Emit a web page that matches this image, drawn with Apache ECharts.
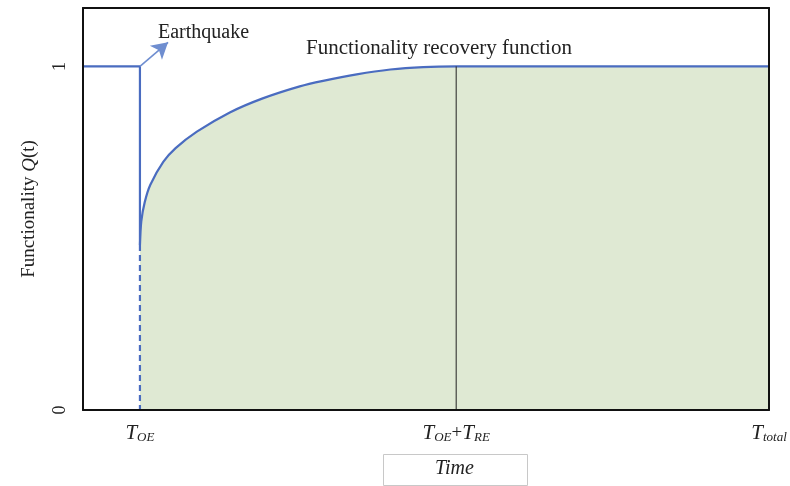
<!DOCTYPE html>
<html>
<head>
<meta charset="utf-8">
<script src="https://cdn.jsdelivr.net/npm/echarts@6/dist/echarts.min.js"></script>
<style>html,body{margin:0;padding:0;background:#fff}#c{width:790px;height:486px}</style>
</head>
<body>
<div id="c"></div>
<script>
// ---- data ----
const xTickValues = [8.3, 54.4, 100];
const xTickLabels = ['{t|T}{s|OE}', '{t|T}{s|OE}{p|+}{t|T}{s|RE}', '{t|T}{s|total}'];
const yTickValues = [0, 1];
const yTickLabels = ['0', '1'];
const preEventX = [0, 8.3, 8.3];
const preEventY = [1, 1, 0.48];
const dashedX = [8.3, 8.3];
const dashedY = [0.48, 0];
const recoveryX = [8.3, 8.5, 9.0, 9.8, 11.7, 13.5, 16.6, 21.4, 26.2, 31.6, 35.0, 39.9, 44.8, 49.6, 54.4, 100];
const recoveryY = [0.48, 0.55, 0.605, 0.655, 0.722, 0.762, 0.81, 0.866, 0.907, 0.942, 0.958, 0.977, 0.991, 0.998, 1.0, 1.0];
const recoveryEndX = [54.4, 54.4];
const recoveryEndY = [0, 1];
const arrowFrom = [8.3, 1];
const arrowTo = [12.4, 1.07];

const zip = (xs, ys) => xs.map((x, i) => [x, ys[i]]);
const serif = '"Liberation Serif", "DejaVu Serif", serif';
const blue = '#4a6cc0';

const chart = echarts.init(document.getElementById('c'));
chart.setOption({
  animation: false,
  grid: { left: 83, top: 8, right: 21, bottom: 76 },
  xAxis: [{
    type: 'value', min: 0, max: 100, z: 5,
    axisLine: { show: true, onZero: false, lineStyle: { color: '#111', width: 2 } },
    axisTick: { show: false },
    splitLine: { show: false },
    axisLabel: {
      customValues: xTickValues,
      margin: 12,
      formatter: (v) => xTickLabels[xTickValues.indexOf(v)],
      rich: {
        t: { fontFamily: serif, fontStyle: 'italic', fontSize: 21, color: '#222' },
        p: { fontFamily: serif, fontSize: 19, color: '#222' },
        s: { fontFamily: serif, fontStyle: 'italic', fontSize: 13, color: '#222', padding: [9, 0, 0, 0] }
      }
    }
  }, {
    type: 'value', min: 0, max: 100, position: 'top', z: 5,
    axisLine: { show: true, onZero: false, lineStyle: { color: '#111', width: 2 } },
    axisTick: { show: false }, axisLabel: { show: false }, splitLine: { show: false }
  }],
  yAxis: [{
    type: 'value', min: 0, max: 1.17, z: 5,
    name: '{n|Functionality }{q|Q}{n|(t)}',
    nameLocation: 'middle', nameGap: 44, nameRotate: 90,
    nameTextStyle: {
      rich: {
        n: { fontFamily: serif, fontSize: 19, color: '#222' },
        q: { fontFamily: serif, fontStyle: 'italic', fontSize: 19, color: '#222' }
      }
    },
    axisLine: { show: true, onZero: false, lineStyle: { color: '#111', width: 2 } },
    axisTick: { show: false },
    splitLine: { show: false },
    axisLabel: {
      customValues: yTickValues,
      rotate: 90, margin: 14,
      formatter: (v) => yTickLabels[yTickValues.indexOf(v)],
      fontFamily: serif, fontSize: 18, color: '#222'
    }
  }, {
    type: 'value', min: 0, max: 1.17, position: 'right', z: 5,
    axisLine: { show: true, onZero: false, lineStyle: { color: '#111', width: 2 } },
    axisTick: { show: false }, axisLabel: { show: false }, splitLine: { show: false }
  }],
  series: [
    {
      type: 'line', data: zip(recoveryX, recoveryY), showSymbol: false, symbol: 'none',
      smooth: 0.3,
      lineStyle: { color: blue, width: 2.2 },
      areaStyle: { color: '#dfe9d3', opacity: 1 }, z: 2
    },
    {
      type: 'line', data: zip(preEventX, preEventY), symbol: 'none',
      lineStyle: { color: blue, width: 2.2 }, z: 3,
      markLine: {
        silent: true, symbol: ['none', 'arrow'], symbolSize: [14, 16],
        lineStyle: { color: '#6f8ed0', width: 1.6, type: 'solid' },
        label: { show: false },
        data: [[{ coord: arrowFrom }, { coord: arrowTo }]]
      }
    },
    {
      type: 'line', data: zip(dashedX, dashedY), symbol: 'none',
      lineStyle: { color: blue, width: 2.2, type: [6, 4] }, z: 3
    },
    {
      type: 'line', data: zip(recoveryEndX, recoveryEndY), symbol: 'none',
      lineStyle: { color: '#222', width: 1 }, z: 3
    }
  ],
  graphic: [
    { type: 'text', left: 158, top: 23, style: { text: 'Earthquake', font: '20px ' + serif, fill: '#222' } },
    { type: 'text', left: 306, top: 38, style: { text: 'Functionality recovery function', font: '21px ' + serif, fill: '#222' } },
    { type: 'rect', left: 383, top: 454, shape: { width: 144, height: 31 }, style: { fill: '#fff', stroke: '#c8c8c8', lineWidth: 1 } },
    { type: 'text', left: 435, top: 459, style: { text: 'Time', font: 'italic 20px ' + serif, fill: '#222' } }
  ]
});
</script>
</body>
</html>
